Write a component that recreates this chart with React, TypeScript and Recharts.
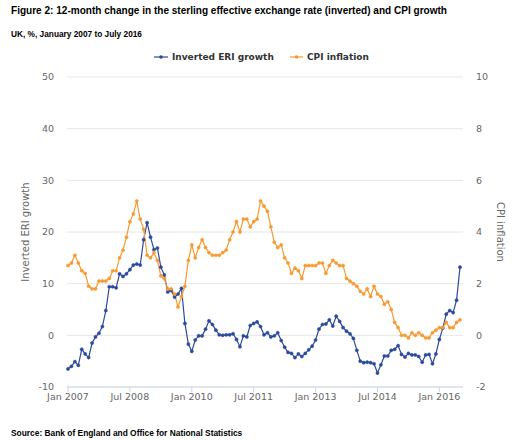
import React from "react";
import {
  LineChart,
  Line,
  XAxis,
  YAxis,
  CartesianGrid,
} from "recharts";

const MONTHS = ["Jan", "Feb", "Mar", "Apr", "May", "Jun", "Jul", "Aug", "Sep", "Oct", "Nov", "Dec"];

// Jan 2007 .. Jul 2016, monthly
const eriGrowth = [
  -6.5, -6.0, -5.1, -5.8, -2.7, -3.6, -4.3, -1.5, -0.3, 0.4, 1.7, 4.8,
  9.4, 9.4, 9.2, 11.9, 11.4, 11.9, 12.7, 13.6, 13.8, 13.6, 18.5, 21.8,
  19.0, 16.6, 16.9, 13.2, 11.7, 8.4, 8.7, 7.4, 8.0, 9.1, 2.3, -1.7,
  -3.1, -0.9, -0.1, -0.1, 1.2, 2.8, 2.1, 1.0, 0.1, 0.0, 0.1, 0.1,
  0.3, -0.8, -2.2, -0.1, -0.3, 1.9, 2.3, 2.6, 1.7, 0.1, 0.5, -0.3,
  -0.1, 0.5, -1.0, -2.3, -3.3, -3.5, -4.3, -3.6, -4.1, -3.5, -2.8, -2.1,
  -0.9, 1.2, 2.1, 2.2, 3.0, 1.8, 3.7, 2.7, 1.5, 0.8, 0.3, -0.6,
  -2.9, -5.0, -5.3, -5.2, -5.3, -5.5, -7.3, -5.7, -4.0, -4.0, -2.9, -2.7,
  -2.0, -3.7, -4.2, -3.5, -3.8, -3.8, -4.1, -5.2, -3.8, -3.7, -5.5, -3.6,
  -0.8, 1.4, 4.1, 4.8, 4.4, 6.8, 13.2,
];

const cpiInflation = [
  2.7, 2.8, 3.1, 2.8, 2.5, 2.4, 1.9, 1.8, 1.8, 2.1, 2.1, 2.1,
  2.2, 2.5, 2.5, 3.0, 3.3, 3.8, 4.4, 4.7, 5.2, 4.5, 4.1, 3.1,
  3.0, 3.2, 2.9, 2.3, 2.2, 1.8, 1.8, 1.6, 1.1, 1.5, 1.9, 2.9,
  3.5, 3.0, 3.4, 3.7, 3.4, 3.2, 3.1, 3.1, 3.1, 3.2, 3.3, 3.7,
  4.0, 4.4, 4.0, 4.5, 4.5, 4.2, 4.4, 4.5, 5.2, 5.0, 4.8, 4.2,
  3.6, 3.4, 3.5, 3.0, 2.8, 2.4, 2.6, 2.5, 2.2, 2.7, 2.7, 2.7,
  2.7, 2.8, 2.8, 2.4, 2.7, 2.9, 2.8, 2.7, 2.7, 2.2, 2.1, 2.0,
  1.9, 1.7, 1.6, 1.8, 1.5, 1.9, 1.6, 1.5, 1.2, 1.3, 1.0, 0.5,
  0.3, 0.0, 0.0, -0.1, 0.1, 0.0, 0.1, 0.0, -0.1, -0.1, 0.1, 0.2,
  0.3, 0.3, 0.5, 0.3, 0.3, 0.5, 0.6,
];

const xTicks = ["Jan 2007", "Jul 2008", "Jan 2010", "Jul 2011", "Jan 2013", "Jul 2014", "Jan 2016"];
const leftTicks = [-10, 0, 10, 20, 30, 40, 50];
const rightTicks = [-2, 0, 2, 4, 6, 8, 10];

const data = eriGrowth.map((v, i) => ({
  month: `${MONTHS[i % 12]} ${2007 + Math.floor(i / 12)}`,
  eri: v,
  cpi: cpiInflation[i],
}));

const BLUE = "#2c4a9c";
const ORANGE = "#f79a32";
const TICK_FONT = { fontFamily: "DejaVu Sans", fontSize: 9.5, fill: "#666666" };

export default function App() {
  return (
    <div
      style={{
        position: "absolute",
        left: 0,
        top: 0,
        width: 519,
        height: 440,
        background: "#ffffff",
      }}
    >
      <LineChart
        width={519}
        height={440}
        data={data}
        margin={{ top: 77, right: 0, bottom: 23, left: 0 }}
      >
        <CartesianGrid
          yAxisId="left"
          vertical={false}
          stroke="#e6e6e6"
        />
        <XAxis
          dataKey="month"
          ticks={xTicks}
          interval={0}
          height={30}
          padding={{ left: 1, right: 3 }}
          tickSize={5}
          tickMargin={1}
          stroke="#ccd6eb"
          tick={TICK_FONT}
        />
        <YAxis
          yAxisId="left"
          width={67}
          domain={[-10, 50]}
          ticks={leftTicks}
          axisLine={false}
          tickLine={false}
          tickSize={0}
          tickMargin={13}
          tick={TICK_FONT}
        />
        <YAxis
          yAxisId="right"
          orientation="right"
          width={56}
          domain={[-2, 10]}
          ticks={rightTicks}
          axisLine={false}
          tickLine={false}
          tickSize={0}
          tickMargin={13}
          tick={TICK_FONT}
        />
        <Line
          yAxisId="left"
          dataKey="eri"
          name="Inverted ERI growth"
          stroke={BLUE}
          strokeWidth={1.2}
          dot={{ r: 1.6, fill: BLUE, stroke: BLUE, strokeWidth: 0.5 }}
          isAnimationActive={false}
        />
        <Line
          yAxisId="right"
          dataKey="cpi"
          name="CPI inflation"
          stroke={ORANGE}
          strokeWidth={1.2}
          dot={{ r: 1.6, fill: ORANGE, stroke: ORANGE, strokeWidth: 0.5 }}
          isAnimationActive={false}
        />
      </LineChart>

      <svg
        width={519}
        height={440}
        style={{ position: "absolute", left: 0, top: 0, pointerEvents: "none" }}
      >
        <text x={11} y={14} fontFamily="Liberation Sans" fontWeight="bold" fontSize={10.05} fill="#000">
          Figure 2: 12-month change in the sterling effective exchange rate (inverted) and CPI growth
        </text>
        <text x={11} y={36.5} fontFamily="Liberation Sans" fontWeight="bold" fontSize={8.3} fill="#000">
          UK, %, January 2007 to July 2016
        </text>
        <text x={11} y={436} fontFamily="Liberation Sans" fontWeight="bold" fontSize={8.4} fill="#000">
          Source: Bank of England and Office for National Statistics
        </text>

        {/* legend */}
        <line x1={154} x2={168} y1={57} y2={57} stroke={BLUE} strokeWidth={1.2} />
        <circle cx={161} cy={57} r={1.8} fill={BLUE} />
        <text x={172} y={60.3} fontFamily="DejaVu Sans" fontWeight="bold" fontSize={9} fill="#333333">
          Inverted ERI growth
        </text>
        <line x1={290} x2={303} y1={57} y2={57} stroke={ORANGE} strokeWidth={1.2} />
        <circle cx={296.5} cy={57} r={1.8} fill={ORANGE} />
        <text x={307} y={60.3} fontFamily="DejaVu Sans" fontWeight="bold" fontSize={9} fill="#333333">
          CPI inflation
        </text>

        {/* axis titles */}
        <text
          x={0}
          y={0}
          transform="translate(29,232) rotate(-90)"
          textAnchor="middle"
          fontFamily="DejaVu Sans"
          fontSize={10}
          fill="#666666"
        >
          Inverted ERI growth
        </text>
        <text
          x={0}
          y={0}
          transform="translate(497,232) rotate(90)"
          textAnchor="middle"
          fontFamily="DejaVu Sans"
          fontSize={10}
          fill="#666666"
        >
          CPI inflation
        </text>
      </svg>
    </div>
  );
}
